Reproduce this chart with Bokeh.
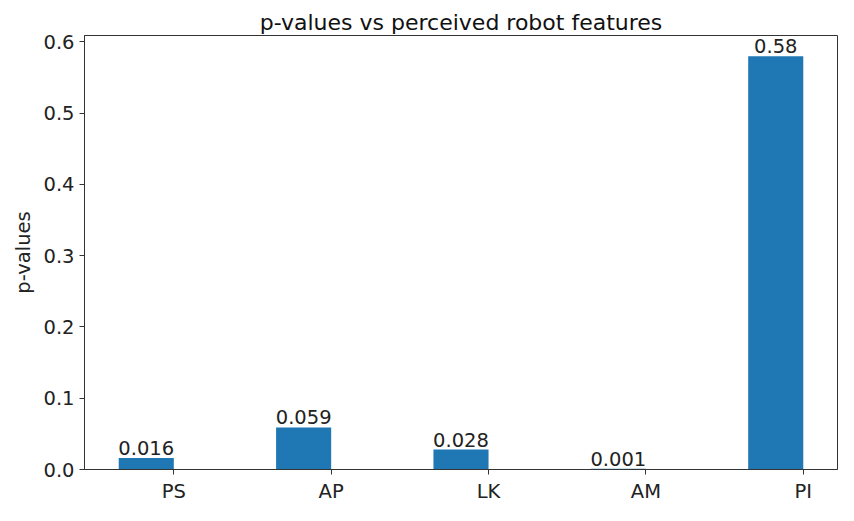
from bokeh.plotting import figure
from bokeh.models import ColumnDataSource, FixedTicker, Range1d
from bokeh.core.properties import value
from bokeh.embed import file_html
from bokeh.resources import INLINE

features = ["PS", "AP", "LK", "AM", "PI"]
p_values = [0.016, 0.059, 0.028, 0.001, 0.58]
y_ticks = [0.0, 0.1, 0.2, 0.3, 0.4, 0.5, 0.6]

bar_width = 0.35
pos = list(range(len(features)))
centers = [i - bar_width / 2 for i in pos]
labels = [f"{v:g}" for v in p_values]

src = ColumnDataSource(dict(x=centers, top=p_values, label=labels))

FONT = "DejaVu Sans"
ymax = max(p_values) * 1.05
xmin = -bar_width - 0.05 * (len(features) - 1 + bar_width)
xmax = len(features) - 1 + 0.05 * (len(features) - 1 + bar_width)

p = figure(width=840, height=505, output_backend="svg", toolbar_location=None,
           x_range=Range1d(xmin, xmax), y_range=Range1d(0, ymax),
           min_border_left=84, min_border_right=3, min_border_top=35, min_border_bottom=30)

p.vbar(x="x", top="top", width=bar_width, bottom=0, source=src,
       fill_color="#1f77b4", line_color=None)
p.text(x="x", y="top", text="label", source=src, text_align="center",
       text_baseline="bottom", y_offset=-3, text_font=value(FONT),
       text_font_size="19.5px", text_color="#222222")

p.title.text = "p-values vs perceived robot features"
p.title.align = "center"
p.title.text_font = FONT
p.title.text_font_size = "22px"
p.title.text_font_style = "normal"
p.title.text_color = "#111111"
p.title.standoff = 2

p.xgrid.visible = False
p.ygrid.visible = False
p.outline_line_color = "#333333"
p.outline_line_width = 1
p.background_fill_color = "white"
p.border_fill_color = "white"

p.xaxis.ticker = FixedTicker(ticks=pos)
p.xaxis.major_label_overrides = {i: f for i, f in enumerate(features)}
p.yaxis.ticker = FixedTicker(ticks=y_ticks)
p.yaxis.major_label_overrides = {t: f"{t:.1f}" for t in y_ticks}
p.yaxis.axis_label = "p-values"

for ax in (p.xaxis, p.yaxis):
    ax.axis_line_color = "#333333"
    ax.major_tick_line_color = "#333333"
    ax.major_tick_out = 5
    ax.major_tick_in = 0
    ax.minor_tick_line_color = None
    ax.major_label_text_font = FONT
    ax.major_label_text_font_size = "19.5px"
    ax.major_label_text_color = "#222222"
    ax.axis_label_text_font = FONT
    ax.axis_label_text_font_size = "19.5px"
    ax.axis_label_text_font_style = "normal"
    ax.axis_label_text_color = "#222222"
    ax.major_label_standoff = 5

open("out.html", "w").write(file_html(p, INLINE))
